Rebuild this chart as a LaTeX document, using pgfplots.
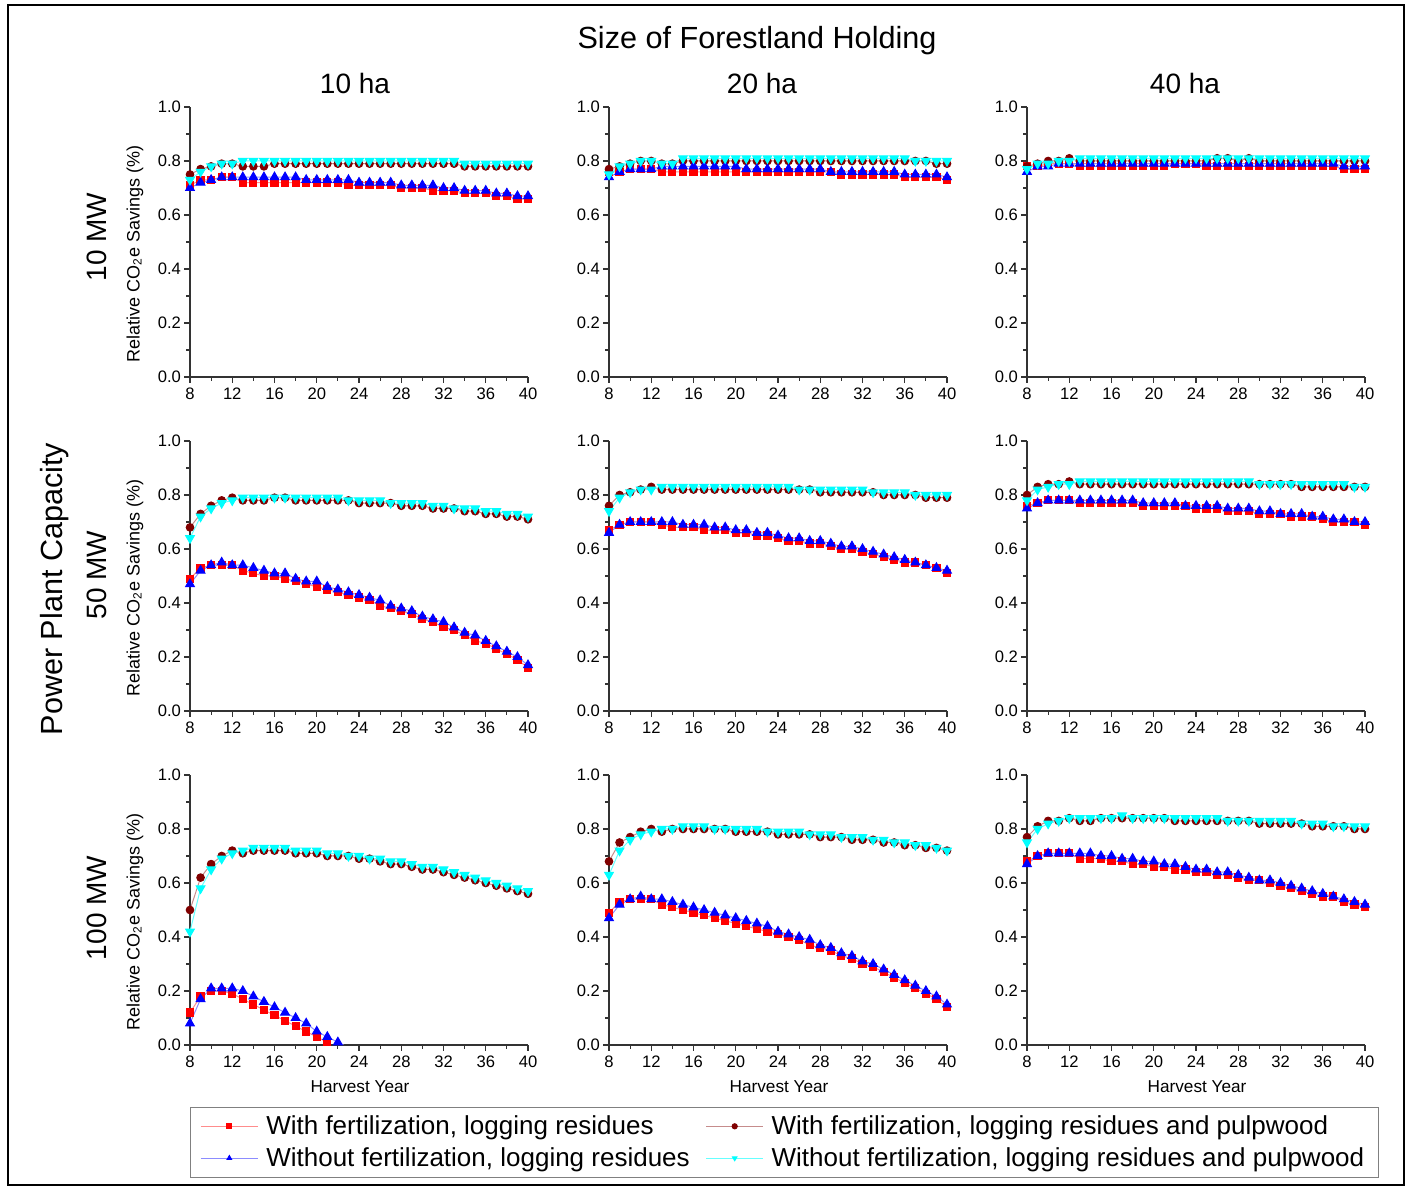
\documentclass[border=0pt]{standalone}
\usepackage{fontspec}
\setmainfont{Liberation Sans}
\usepackage{pgfplots}
\usepackage{pgfplotstable}
\pgfplotsset{compat=1.18}

\definecolor{mar}{RGB}{128,0,0}
\definecolor{cy}{RGB}{0,255,255}

% columns: r = with fert. residues, m = with fert. residues+pulpwood,
%          b = without fert. residues, c = without fert. residues+pulpwood
\pgfplotstableread{
x r m b c
8 .71 .75 .70 .73
9 .73 .77 .72 .76
10 .73 .78 .73 .78
11 .74 .79 .74 .79
12 .74 .79 .74 .79
13 .72 .78 .74 .80
14 .72 .78 .74 .80
15 .72 .78 .74 .80
16 .72 .79 .74 .80
17 .72 .79 .74 .80
18 .72 .79 .74 .80
19 .72 .79 .73 .80
20 .72 .79 .73 .80
21 .72 .79 .73 .80
22 .72 .79 .73 .80
23 .71 .79 .73 .80
24 .71 .79 .72 .80
25 .71 .79 .72 .80
26 .71 .79 .72 .80
27 .71 .79 .72 .80
28 .70 .79 .71 .80
29 .70 .79 .71 .80
30 .70 .79 .71 .80
31 .69 .79 .71 .80
32 .69 .79 .70 .80
33 .69 .79 .70 .80
34 .68 .78 .69 .79
35 .68 .78 .69 .79
36 .68 .78 .69 .79
37 .67 .78 .68 .79
38 .67 .78 .68 .79
39 .66 .78 .67 .79
40 .66 .78 .67 .79
}\tA

\pgfplotstableread{
x r m b c
8 .76 .77 .74 .75
9 .76 .78 .76 .78
10 .77 .79 .77 .79
11 .77 .80 .77 .80
12 .77 .80 .77 .80
13 .76 .79 .78 .79
14 .76 .79 .78 .79
15 .76 .80 .78 .81
16 .76 .80 .78 .81
17 .76 .80 .78 .81
18 .76 .80 .78 .81
19 .76 .80 .78 .81
20 .76 .80 .78 .81
21 .76 .80 .77 .81
22 .76 .80 .77 .81
23 .76 .80 .77 .81
24 .76 .80 .77 .81
25 .76 .80 .77 .81
26 .76 .80 .77 .81
27 .76 .80 .77 .81
28 .76 .80 .77 .81
29 .76 .80 .76 .81
30 .75 .80 .76 .81
31 .75 .80 .76 .81
32 .75 .80 .76 .81
33 .75 .80 .76 .81
34 .75 .80 .76 .81
35 .75 .80 .76 .81
36 .74 .80 .75 .81
37 .74 .80 .75 .80
38 .74 .80 .75 .80
39 .74 .79 .75 .80
40 .73 .79 .74 .80
}\tB

\pgfplotstableread{
x r m b c
8 .78 .78 .76 .77
9 .78 .79 .78 .79
10 .79 .80 .78 .79
11 .79 .80 .79 .80
12 .79 .81 .79 .80
13 .78 .80 .79 .81
14 .78 .80 .79 .81
15 .78 .80 .79 .81
16 .78 .80 .79 .81
17 .78 .80 .79 .81
18 .78 .80 .79 .81
19 .78 .80 .79 .81
20 .78 .80 .79 .81
21 .78 .80 .79 .81
22 .79 .80 .79 .81
23 .79 .80 .79 .81
24 .79 .80 .79 .81
25 .78 .80 .79 .81
26 .78 .81 .79 .81
27 .78 .81 .79 .81
28 .78 .80 .79 .81
29 .78 .81 .79 .81
30 .78 .80 .79 .81
31 .78 .80 .79 .81
32 .78 .80 .79 .81
33 .78 .80 .79 .81
34 .78 .80 .79 .81
35 .78 .80 .79 .81
36 .78 .80 .79 .81
37 .78 .80 .79 .81
38 .77 .80 .78 .81
39 .77 .80 .78 .81
40 .77 .80 .78 .81
}\tC

\pgfplotstableread{
x r m b c
8 .49 .68 .47 .64
9 .53 .73 .52 .72
10 .54 .76 .54 .75
11 .54 .78 .55 .77
12 .54 .79 .54 .78
13 .52 .78 .54 .79
14 .51 .78 .53 .79
15 .50 .78 .52 .79
16 .50 .79 .51 .79
17 .49 .79 .51 .79
18 .48 .78 .49 .79
19 .47 .78 .48 .79
20 .46 .78 .48 .79
21 .45 .78 .46 .79
22 .44 .78 .45 .79
23 .43 .78 .44 .78
24 .42 .77 .43 .78
25 .41 .77 .42 .78
26 .39 .77 .41 .78
27 .38 .77 .39 .77
28 .37 .76 .38 .77
29 .36 .76 .37 .77
30 .34 .76 .35 .77
31 .33 .75 .34 .76
32 .31 .75 .33 .76
33 .30 .75 .31 .75
34 .28 .74 .29 .75
35 .26 .74 .28 .75
36 .25 .73 .26 .74
37 .23 .73 .24 .74
38 .21 .72 .22 .73
39 .19 .72 .20 .73
40 .16 .71 .17 .72
}\tD

\pgfplotstableread{
x r m b c
8 .67 .76 .66 .74
9 .69 .80 .69 .79
10 .70 .81 .70 .81
11 .70 .82 .70 .82
12 .70 .83 .70 .82
13 .69 .82 .70 .83
14 .68 .82 .70 .83
15 .68 .82 .69 .83
16 .68 .82 .69 .83
17 .67 .82 .69 .83
18 .67 .82 .68 .83
19 .67 .82 .68 .83
20 .66 .82 .67 .83
21 .66 .82 .67 .83
22 .65 .82 .66 .83
23 .65 .82 .66 .83
24 .64 .82 .65 .83
25 .63 .82 .64 .83
26 .63 .82 .64 .82
27 .62 .82 .63 .82
28 .62 .81 .63 .82
29 .61 .81 .62 .82
30 .60 .81 .61 .82
31 .60 .81 .61 .82
32 .59 .81 .60 .82
33 .58 .81 .59 .81
34 .57 .80 .58 .81
35 .56 .80 .57 .81
36 .55 .80 .56 .81
37 .55 .80 .55 .80
38 .54 .79 .54 .80
39 .53 .79 .53 .80
40 .51 .79 .52 .80
}\tE

\pgfplotstableread{
x r m b c
8 .76 .80 .75 .78
9 .77 .83 .77 .82
10 .78 .84 .78 .83
11 .78 .84 .78 .84
12 .78 .85 .78 .84
13 .77 .84 .78 .85
14 .77 .84 .78 .85
15 .77 .84 .78 .85
16 .77 .84 .78 .85
17 .77 .84 .78 .85
18 .77 .84 .78 .85
19 .76 .84 .77 .85
20 .76 .84 .77 .85
21 .76 .84 .77 .85
22 .76 .84 .77 .85
23 .76 .84 .76 .85
24 .75 .84 .76 .85
25 .75 .84 .76 .85
26 .75 .84 .76 .85
27 .74 .84 .75 .85
28 .74 .84 .75 .85
29 .74 .84 .75 .85
30 .73 .84 .74 .84
31 .73 .84 .74 .84
32 .73 .84 .73 .84
33 .72 .84 .73 .84
34 .72 .83 .73 .84
35 .72 .83 .72 .84
36 .71 .83 .72 .84
37 .70 .83 .71 .84
38 .70 .83 .71 .84
39 .70 .83 .70 .83
40 .69 .83 .70 .83
}\tF

\pgfplotstableread{
x r m b c
8 .12 .50 .08 .42
9 .18 .62 .17 .58
10 .20 .67 .21 .65
11 .20 .70 .21 .69
12 .19 .72 .21 .71
13 .17 .71 .20 .72
14 .15 .72 .18 .73
15 .13 .72 .16 .73
16 .11 .72 .14 .73
17 .09 .72 .12 .73
18 .07 .71 .10 .72
19 .05 .71 .08 .72
20 .03 .71 .05 .72
21 .01 .70 .03 .71
22 -.03 .70 .01 .71
23 nan .70 -.01 .70
24 nan .69 -.05 .70
25 nan .69 nan .69
26 nan .68 nan .69
27 nan .67 nan .68
28 nan .67 nan .68
29 nan .66 nan .67
30 nan .65 nan .66
31 nan .65 nan .66
32 nan .64 nan .65
33 nan .63 nan .64
34 nan .62 nan .63
35 nan .61 nan .62
36 nan .60 nan .61
37 nan .59 nan .60
38 nan .58 nan .59
39 nan .57 nan .58
40 nan .56 nan .57
}\tG

\pgfplotstableread{
x r m b c
8 .49 .68 .47 .63
9 .53 .75 .52 .72
10 .54 .77 .54 .76
11 .54 .79 .55 .78
12 .54 .80 .54 .79
13 .52 .79 .54 .80
14 .51 .80 .53 .80
15 .50 .80 .52 .81
16 .49 .80 .51 .81
17 .48 .80 .50 .81
18 .47 .80 .49 .80
19 .46 .80 .48 .80
20 .45 .79 .47 .80
21 .44 .79 .46 .80
22 .43 .79 .45 .80
23 .42 .79 .44 .79
24 .41 .78 .42 .79
25 .40 .78 .41 .79
26 .39 .78 .40 .79
27 .37 .78 .39 .78
28 .36 .77 .37 .78
29 .35 .77 .36 .78
30 .33 .77 .34 .77
31 .32 .76 .33 .77
32 .30 .76 .31 .77
33 .29 .76 .30 .76
34 .27 .75 .28 .76
35 .25 .75 .26 .75
36 .23 .74 .24 .75
37 .21 .74 .22 .74
38 .19 .73 .20 .74
39 .17 .73 .18 .73
40 .14 .72 .15 .72
}\tH

\pgfplotstableread{
x r m b c
8 .68 .77 .67 .75
9 .70 .81 .70 .80
10 .71 .83 .71 .82
11 .71 .83 .71 .83
12 .71 .84 .71 .84
13 .69 .83 .71 .84
14 .69 .83 .71 .84
15 .69 .84 .70 .84
16 .68 .84 .70 .84
17 .68 .84 .69 .85
18 .67 .84 .69 .84
19 .67 .84 .68 .84
20 .66 .84 .68 .84
21 .66 .84 .67 .84
22 .65 .83 .67 .84
23 .65 .83 .66 .84
24 .64 .83 .65 .84
25 .64 .83 .65 .84
26 .63 .83 .64 .84
27 .63 .83 .64 .83
28 .62 .83 .63 .83
29 .61 .83 .62 .83
30 .61 .82 .61 .83
31 .60 .82 .61 .83
32 .59 .82 .60 .83
33 .58 .82 .59 .83
34 .57 .82 .58 .82
35 .56 .81 .57 .82
36 .55 .81 .56 .82
37 .55 .81 .55 .81
38 .53 .81 .54 .81
39 .52 .80 .53 .81
40 .51 .80 .52 .81
}\tI

\pgfplotsset{
  panel/.style={
    scale only axis, width=169pt, height=135pt,
    xmin=8, xmax=40, ymin=0, ymax=1,
    axis x line*=bottom, axis y line*=left,
    axis line style={-, line width=0.8pt, black!80},
    xtick={8,12,16,20,24,28,32,36,40},
    ytick={0,0.2,0.4,0.6,0.8,1},
    minor x tick num=1, minor y tick num=1,
    tick align=outside, major tick length=3pt, minor tick length=1.8pt,
    tick style={line width=0.6pt, black!80},
    /pgf/number format/assume math mode=true,
    yticklabel style={/pgf/number format/fixed, /pgf/number format/fixed zerofill,
      /pgf/number format/precision=1, xshift=2pt},
    tick label style={font=\fontsize{8.3}{10}\selectfont},
    xticklabel style={yshift=1pt},
    ylabel style={font=\fontsize{9}{10}\selectfont, at={(axis description cs:-0.163,0.455)}, anchor=center},
    xlabel style={font=\fontsize{8.6}{10}\selectfont, at={(axis description cs:0.503,-0.156)}, anchor=center},
  },
  sr/.style={color=red!45, line width=0.5pt, mark=square*, mark size=1.8pt, mark options={draw=red, fill=red}},
  sm/.style={color=mar!45, line width=0.5pt, mark=*, mark size=1.9pt, mark options={draw=mar, fill=mar}},
  sb/.style={color=blue!45, line width=0.5pt, mark=triangle*, mark size=2.5pt, mark options={draw=blue, fill=blue}},
  sc/.style={color=cy!60, line width=0.5pt, mark=triangle*, mark size=2.5pt, mark options={rotate=180, draw=cy, fill=cy}},
}

\newcommand{\four}[1]{%
  \addplot[sr] table[x=x,y=r]{#1};
  \addplot[sm] table[x=x,y=m]{#1};
  \addplot[sb] table[x=x,y=b]{#1};
  \addplot[sc] table[x=x,y=c]{#1};
}

\begin{document}
\begin{tikzpicture}
\path[use as bounding box] (0,0) rectangle (703pt,593pt);
\draw[line width=1.1pt] (4pt,0.4pt) rectangle (702pt,590.5pt);

\node[font=\fontsize{15.3}{18}\selectfont] at (378.5pt,572.5pt) {Size of Forestland Holding};
\node[font=\fontsize{14}{17}\selectfont] at (177.5pt,551pt) {10 ha};
\node[font=\fontsize{14}{17}\selectfont] at (381pt,551pt) {20 ha};
\node[font=\fontsize{14}{17}\selectfont] at (592.5pt,551pt) {40 ha};
\node[font=\fontsize{15.3}{18}\selectfont, rotate=90] at (27.5pt,298.5pt) {Power Plant Capacity};
\node[font=\fontsize{14}{17}\selectfont, rotate=90] at (48.5pt,474.5pt) {10 MW};
\node[font=\fontsize{14}{17}\selectfont, rotate=90] at (48.5pt,305.5pt) {50 MW};
\node[font=\fontsize{14}{17}\selectfont, rotate=90] at (48.5pt,139pt) {100 MW};

% row 1: 10 MW
\begin{axis}[panel, at={(95pt,404.5pt)}, anchor=south west,
  ylabel={Relative CO\textsubscript{2}e Savings (\%)}]
\four{\tA}
\end{axis}
\begin{axis}[panel, at={(304.5pt,404.5pt)}, anchor=south west]
\four{\tB}
\end{axis}
\begin{axis}[panel, at={(513.5pt,404.5pt)}, anchor=south west]
\four{\tC}
\end{axis}

% row 2: 50 MW
\begin{axis}[panel, at={(95pt,237.5pt)}, anchor=south west,
  ylabel={Relative CO\textsubscript{2}e Savings (\%)}]
\four{\tD}
\end{axis}
\begin{axis}[panel, at={(304.5pt,237.5pt)}, anchor=south west]
\four{\tE}
\end{axis}
\begin{axis}[panel, at={(513.5pt,237.5pt)}, anchor=south west]
\four{\tF}
\end{axis}

% row 3: 100 MW
\begin{axis}[panel, at={(95pt,70.5pt)}, anchor=south west,
  ylabel={Relative CO\textsubscript{2}e Savings (\%)}, xlabel={Harvest Year},
  legend columns=2, legend cell align=left,
  legend image code/.code={\draw[mark repeat=2, mark phase=2, mark size=1.3pt]
    plot coordinates {(0cm,0cm) (0.5cm,0cm) (1cm,0cm)};},
  legend style={at={(axis description cs:0,-0.2296)}, anchor=north west,
    draw=gray, font=\fontsize{13}{16}\selectfont, inner xsep=5pt, inner ysep=2pt,
    row sep=1pt,
    /tikz/every odd column/.append style={column sep=2pt},
    /tikz/every even column/.append style={column sep=6pt}}]
\four{\tG}
\legend{{With fertilization, logging residues},
  {With fertilization, logging residues and pulpwood},
  {Without fertilization, logging residues},
  {Without fertilization, logging residues and pulpwood}}
\end{axis}
\begin{axis}[panel, at={(304.5pt,70.5pt)}, anchor=south west, xlabel={Harvest Year}]
\four{\tH}
\end{axis}
\begin{axis}[panel, at={(513.5pt,70.5pt)}, anchor=south west, xlabel={Harvest Year}]
\four{\tI}
\end{axis}
\end{tikzpicture}
\end{document}
